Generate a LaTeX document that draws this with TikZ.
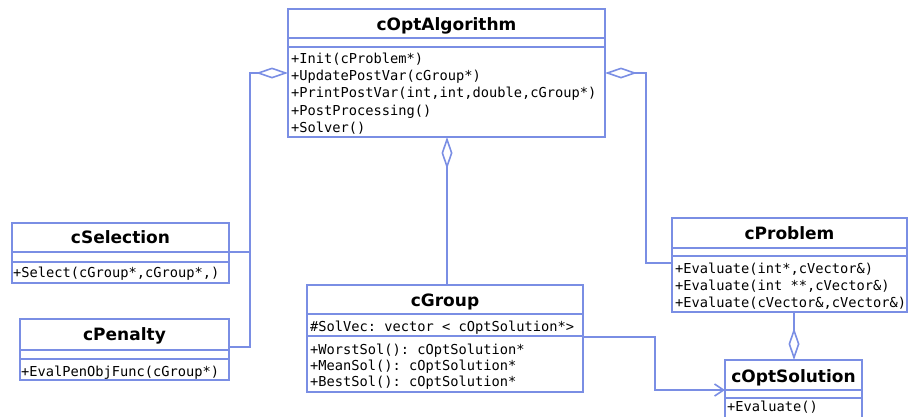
\documentclass[tikz,border=0pt]{standalone}
\usepackage{fontspec}
\setmainfont{DejaVu Sans}
\setmonofont{DejaVu Sans Mono}
\usetikzlibrary{arrows.meta}
\definecolor{umlblue}{RGB}{122,142,228}
\begin{document}
\begin{tikzpicture}[x=1pt,y=-1pt,
  classbox/.style={draw=umlblue, line width=1.6pt, fill=white, anchor=north west, inner sep=0pt, outer sep=0pt},
  sepline/.style={draw=umlblue, line width=1.6pt},
  ctitle/.style={anchor=base, inner sep=0pt, font=\fontsize{17}{17}\selectfont\bfseries},
  cmeth/.style={anchor=base west, inner sep=0pt, font=\fontsize{13.7}{13.7}\selectfont\ttfamily},
  conn/.style={draw=umlblue, line width=1.6pt},
  agg/.style={-{Diamond[open, length=32pt, width=11pt, line width=1.6pt]}},
  navi/.style={-{Straight Barb[length=9pt, width=12pt, line width=1.6pt]}}
]
\useasboundingbox (0,0) rectangle (908,416);
\clip (0,0) rectangle (908,416);

% cOptAlgorithm
\node[classbox, minimum width=317pt, minimum height=128pt] (algo) at (288,9) {};
\draw[sepline] (algo.west |- 0,38) -- (algo.east |- 0,38);
\draw[sepline] (algo.west |- 0,47) -- (algo.east |- 0,47);
\node[ctitle] (algoT) at (446.5,30.5) {cOptAlgorithm};
\node[cmeth] (algoM1) at (291,63.5) {+Init(cProblem*)};
\node[cmeth] (algoM2) at (291,80.7) {+UpdatePostVar(cGroup*)};
\node[cmeth] (algoM3) at (291,97.9) {+PrintPostVar(int,int,double,cGroup*)};
\node[cmeth] (algoM4) at (291,115.1) {+PostProcessing()};
\node[cmeth] (algoM5) at (291,132.3) {+Solver()};

% cSelection
\node[classbox, minimum width=217pt, minimum height=60pt] (sel) at (12,223) {};
\draw[sepline] (sel.west |- 0,252) -- (sel.east |- 0,252);
\draw[sepline] (sel.west |- 0,262) -- (sel.east |- 0,262);
\node[ctitle] (selT) at (120.5,243.3) {cSelection};
\node[cmeth] (selM1) at (13,277.8) {+Select(cGroup*,cGroup*,)};

% cPenalty
\node[classbox, minimum width=209pt, minimum height=61pt] (pen) at (20,319) {};
\draw[sepline] (pen.west |- 0,350) -- (pen.east |- 0,350);
\draw[sepline] (pen.west |- 0,359) -- (pen.east |- 0,359);
\node[ctitle] (penT) at (124.5,340) {cPenalty};
\node[cmeth] (penM1) at (21,376) {+EvalPenObjFunc(cGroup*)};

% cGroup
\node[classbox, minimum width=276pt, minimum height=107pt] (group) at (307,285) {};
\draw[sepline] (group.west |- 0,314) -- (group.east |- 0,314);
\draw[sepline] (group.west |- 0,336) -- (group.east |- 0,336);
\node[ctitle] (groupT) at (445,306) {cGroup};
\node[cmeth] (groupA1) at (310,331.5) {\#SolVec: vector < cOptSolution*>};
\node[cmeth] (groupM1) at (310,354.5) {+WorstSol(): cOptSolution*};
\node[cmeth] (groupM2) at (310,370.5) {+MeanSol(): cOptSolution*};
\node[cmeth] (groupM3) at (310,386.5) {+BestSol(): cOptSolution*};

% cProblem
\node[classbox, minimum width=235pt, minimum height=94pt] (prob) at (672,218) {};
\draw[sepline] (prob.west |- 0,248) -- (prob.east |- 0,248);
\draw[sepline] (prob.west |- 0,256) -- (prob.east |- 0,256);
\node[ctitle] (probT) at (789.5,239) {cProblem};
\node[cmeth] (probM1) at (675,273) {+Evaluate(int*,cVector\&)};
\node[cmeth] (probM2) at (675,290) {+Evaluate(int **,cVector\&)};
\node[cmeth] (probM3) at (675,307) {+Evaluate(cVector\&,cVector\&)};

% cOptSolution
\node[classbox, minimum width=137pt, minimum height=80pt] (sol) at (725,360) {};
\draw[sepline] (sol.west |- 0,390) -- (sol.east |- 0,390);
\draw[sepline] (sol.west |- 0,398) -- (sol.east |- 0,398);
\node[ctitle] (solT) at (793.5,382) {cOptSolution};
\node[cmeth] (solM1) at (727,411) {+Evaluate()};

% connectors
\draw[conn, agg] (sel.east |- 0,252) -- (250,252) -- (250,73) -- (algo.west |- 0,73);
\draw[conn] (pen.east |- 0,347) -- (250,347) -- (250,252);
\draw[conn, agg] (prob.west |- 0,263) -- (646,263) -- (646,73) -- (algo.east |- 0,73);
\draw[conn, agg] (group.north -| 447,0) -- (algo.south -| 447,0);
\draw[conn, navi] (group.east |- 0,337) -- (655,337) -- (655,390) -- (sol.west |- 0,390);
\draw[conn, agg] (prob.south -| 794,0) -- (sol.north -| 794,0);
\end{tikzpicture}
\end{document}
